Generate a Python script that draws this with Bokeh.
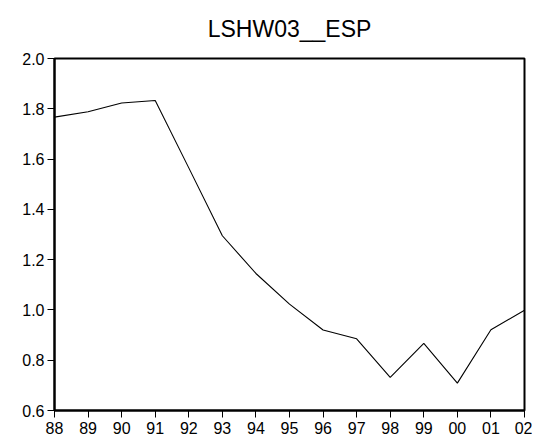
from bokeh.plotting import figure
from bokeh.models import Range1d, FixedTicker, Title
from bokeh.embed import file_html
from bokeh.resources import INLINE

years = [1988, 1989, 1990, 1991, 1992, 1993, 1994, 1995, 1996, 1997, 1998, 1999, 2000, 2001, 2002]
tick_labels = ["88", "89", "90", "91", "92", "93", "94", "95", "96", "97", "98", "99", "00", "01", "02"]
values = [1.767, 1.788, 1.823, 1.833, 1.565, 1.295, 1.145, 1.023, 0.920, 0.885, 0.732, 0.867, 0.709, 0.921, 0.999]
y_ticks = [0.6, 0.8, 1.0, 1.2, 1.4, 1.6, 1.8, 2.0]
title_text = "LSHW03__ESP"

FONT = "Liberation Sans"

p = figure(width=532, height=440, output_backend="svg", toolbar_location=None,
           x_range=Range1d(years[0], years[-1]), y_range=Range1d(0.6, 2.0),
           min_border_left=54, min_border_right=8, min_border_top=58, min_border_bottom=30)

p.title = Title(text=title_text, align="center", vertical_align="top", text_font=FONT,
                text_font_size="23px", text_font_style="normal", text_color="black",
                standoff=30)

p.line(years, values, line_color="black", line_width=1.1)

p.grid.visible = False
p.outline_line_color = "black"
p.outline_line_width = 2
p.background_fill_color = "white"
p.border_fill_color = "white"

p.xaxis.ticker = FixedTicker(ticks=years)
p.xaxis.major_label_overrides = {y: l for y, l in zip(years, tick_labels)}
p.yaxis.ticker = FixedTicker(ticks=y_ticks)
p.yaxis.major_label_overrides = {t: f"{t:.1f}" for t in y_ticks}

for ax in (p.xaxis, p.yaxis):
    ax.axis_line_color = "black"
    ax.axis_line_width = 2
    ax.major_tick_line_color = "black"
    ax.major_tick_line_width = 1
    ax.major_tick_out = 7
    ax.major_tick_in = 0
    ax.minor_tick_line_color = None
    ax.major_label_text_font = FONT
    ax.major_label_text_font_size = "16px"
    ax.major_label_text_color = "black"
p.xaxis.major_label_standoff = 4
p.yaxis.major_label_standoff = 3

open("out.html", "w").write(file_html(p, INLINE))
